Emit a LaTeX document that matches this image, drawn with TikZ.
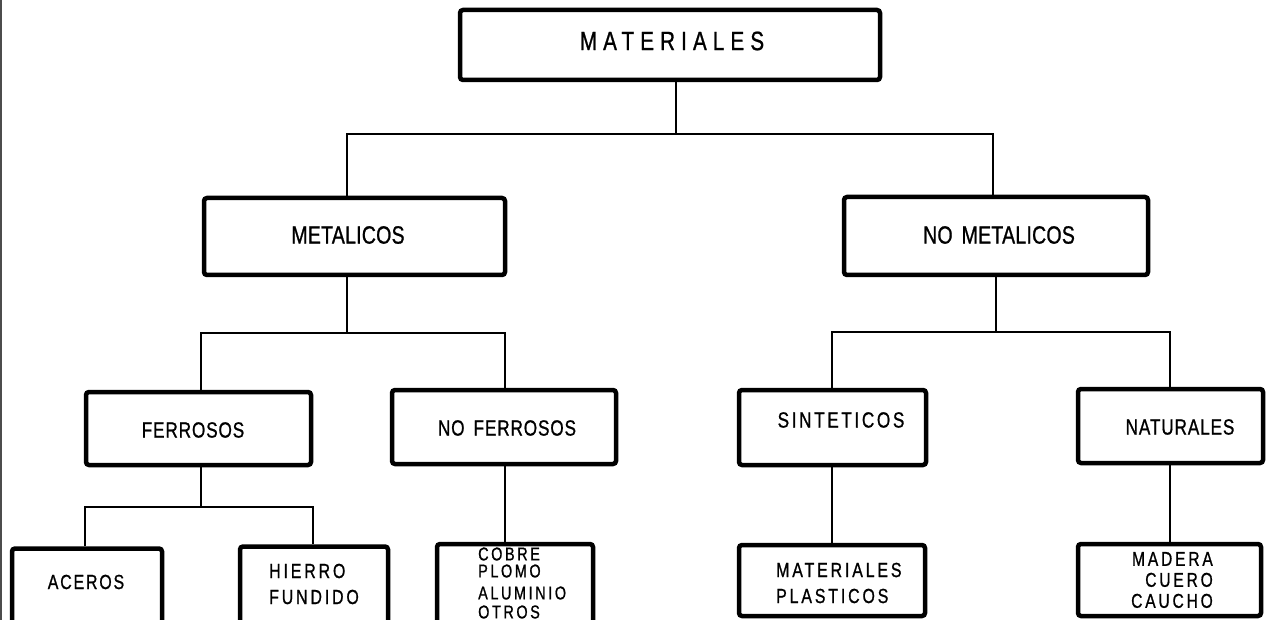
\documentclass[tikz,border=0pt]{standalone}
\usepackage{fontspec}
\newfontfamily\fta{Liberation Sans}[FakeStretch=0.78,LetterSpace=23,FakeBold=0.9]
\newfontfamily\ftb{Liberation Sans}[FakeStretch=0.78,LetterSpace=1,FakeBold=0.9]
\newfontfamily\ftc{Liberation Sans}[FakeStretch=0.78,LetterSpace=4,FakeBold=0.9]
\newfontfamily\ftcs{Liberation Sans}[FakeStretch=0.78,LetterSpace=12,FakeBold=0.9]
\newfontfamily\ftd{Liberation Sans}[FakeStretch=0.78,LetterSpace=14,FakeBold=0.9]
\newfontfamily\ftds{Liberation Sans}[FakeStretch=0.78,LetterSpace=9,FakeBold=0.9]
\begin{document}
\begin{tikzpicture}[x=1pt,y=-1pt,
  box/.style={draw=black,line width=4.5pt,rounded corners=3pt,inner sep=0pt,minimum width=#1},
  conn/.style={draw=black,line width=2pt},
  ttl/.style={inner sep=0pt,font=\fta\fontsize{26.5}{30}\selectfont},
  lvb/.style={inner sep=0pt,font=\ftb\fontsize{25}{28}\selectfont},
  lvc/.style={inner sep=0pt,font=\ftc\fontsize{22}{26}\selectfont},
  lvcs/.style={inner sep=0pt,font=\ftcs\fontsize{22}{26}\selectfont},
  lvd/.style={inner sep=0pt,font=\ftd\fontsize{20.4}{26}\selectfont}]
\useasboundingbox (0,0) rectangle (1271,620);
\clip (0,0) rectangle (1271,620);
\fill[white] (0,0) rectangle (1271,620);
% left scan edge
\draw[line width=1.5pt,black!70] (1.2,0) -- (1.2,620);
% boxes
\node[box=420pt,minimum height=70pt] (mat) at (670,45) {};
\node[box=301pt,minimum height=77pt] (met) at (354.5,236.5) {};
\node[box=304pt,minimum height=78pt] (nomet) at (996,236) {};
\node[box=225pt,minimum height=73pt] (fer) at (198.5,428.5) {};
\node[box=224pt,minimum height=74pt] (nofer) at (504,427) {};
\node[box=187pt,minimum height=75pt] (sin) at (832.5,427.5) {};
\node[box=185pt,minimum height=74pt] (nat) at (1170.5,426) {};
\node[box=150pt,minimum height=77pt] (ace) at (87,587) {};
\node[box=148pt,minimum height=79pt] (hie) at (314,586) {};
\node[box=156pt,minimum height=82pt] (cob) at (515,585) {};
\node[box=186pt,minimum height=71pt] (plas) at (832,580.5) {};
\node[box=183pt,minimum height=72pt] (mad) at (1169.5,580) {};
% texts
\node[ttl] (tmat) at (672,41) {MATERIALES};
\node[lvb] (tmet) at (348,235) {METALICOS};
\node[lvb] (tnomet) at (999,235) {NO\hspace{9pt}METALICOS};
\node[lvc] (tfer) at (193,430) {FERROSOS};
\node[lvc] (tnofer) at (507,428) {NO\hspace{9pt}FERROSOS};
\node[lvcs] (tsin) at (841,420) {SINTETICOS};
\node[lvc] (tnat) at (1180,427) {NATURALES};
\node[lvd,font=\ftds\fontsize{20.4}{26}\selectfont] (tace) at (86,582) {ACEROS};
\node[lvd,align=left,anchor=west] (thie) at (269,584) {HIERRO\\FUNDIDO};
\node[lvd,align=left,anchor=west,font=\ftd\fontsize{18.5}{19}\selectfont] (tcob) at (478,583) {COBRE\\[-2pt]PLOMO\\[3pt]ALUMINIO\\OTROS};
\node[lvd,align=left,anchor=west] (tplas) at (776,583) {MATERIALES\\PLASTICOS};
\node[lvd,align=right,anchor=east,font=\ftd\fontsize{20}{21}\selectfont] (tmad) at (1213,580) {MADERA\\CUERO\\CAUCHO};
% junction coordinates
\coordinate (j1) at (676,134);
\coordinate (j1l) at (347,134);
\coordinate (j1r) at (993,134);
\coordinate (j2) at (347,333);
\coordinate (j2l) at (201,333);
\coordinate (j2r) at (505,333);
\coordinate (j3) at (201,507);
\coordinate (j3l) at (85,507);
\coordinate (j3r) at (313,507);
\coordinate (j4) at (996,332);
\coordinate (j4l) at (832,332);
\coordinate (j4r) at (1170,332);
% connectors
\draw[conn] (mat.south -| j1) -- (j1);
\draw[conn] (met.north -| j1l) -- (j1l) -- (j1r) -- (nomet.north -| j1r);
\draw[conn] (met.south -| j2) -- (j2);
\draw[conn] (fer.north -| j2l) -- (j2l) -- (j2r) -- (nofer.north -| j2r);
\draw[conn] (fer.south -| j3) -- (j3);
\draw[conn] (ace.north -| j3l) -- (j3l) -- (j3r) -- (hie.north -| j3r);
\draw[conn] (nofer.south -| j2r) -- (cob.north -| j2r);
\draw[conn] (nomet.south -| j4) -- (j4);
\draw[conn] (sin.north -| j4l) -- (j4l) -- (j4r) -- (nat.north -| j4r);
\draw[conn] (sin.south -| j4l) -- (plas.north -| j4l);
\draw[conn] (nat.south -| j4r) -- (mad.north -| j4r);
\end{tikzpicture}
\end{document}
